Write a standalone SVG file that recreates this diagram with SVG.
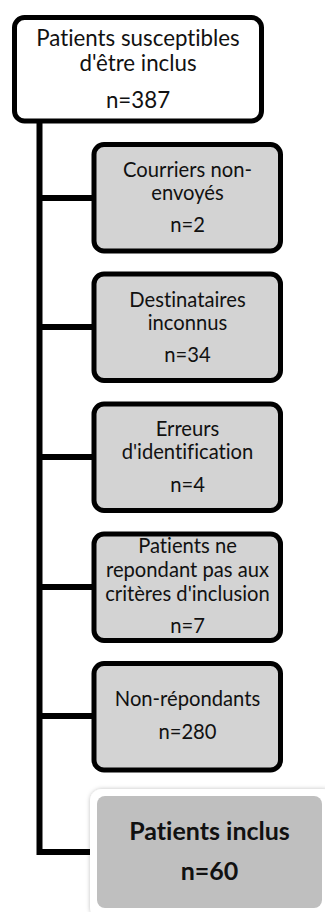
<svg xmlns="http://www.w3.org/2000/svg" width="325" height="912" viewBox="0 0 325 912">
<defs>
<style>
text{font-variant-ligatures:none;font-feature-settings:"liga" 0,"clig" 0,"dlig" 0}
.box{fill:#ffffff;stroke:#000;stroke-width:5}
.gbox{fill:#d3d3d3;stroke:#000;stroke-width:5}
.t{font-family:Lato,"Liberation Sans",sans-serif;font-size:20.2px;fill:#111;text-anchor:middle}
.tt{font-family:Lato,"Liberation Sans",sans-serif;font-size:22.3px;fill:#111;text-anchor:middle}
.tb{font-family:Lato,"Liberation Sans",sans-serif;font-size:25px;font-weight:bold;fill:#111;text-anchor:middle}
.c{fill:none;stroke:#000;stroke-width:6;stroke-linejoin:miter}
</style>
<filter id="sh" x="-10%" y="-10%" width="120%" height="120%">
<feDropShadow dx="0" dy="0" stdDeviation="2" flood-color="#000" flood-opacity="0.25"/>
</filter>
</defs>
<g id="connectors">
<path class="c" d="M39.5 121 V852 H92"/>
<path class="c" d="M39.5 198 H94 M39.5 327 H94 M39.5 457 H94 M39.5 587 H94 M39.5 716 H94"/>
</g>
<g id="n0">
<rect class="box" x="14.5" y="17.5" width="247" height="103.5" rx="10"/>
<text class="tt" x="138" y="46">Patients susceptibles</text>
<text class="tt" x="138" y="71">d'être inclus</text>
<text class="tt" x="138" y="108">n=387</text>
</g>
<g id="n1">
<rect class="gbox" x="94" y="144.5" width="186.5" height="106.5" rx="10"/>
<text class="t" x="187.5" y="177">Courriers non-</text>
<text class="t" x="187.5" y="200">envoyés</text>
<text class="t" x="187.5" y="232">n=2</text>
</g>
<g id="n2">
<rect class="gbox" x="94" y="274" width="186.5" height="106.5" rx="10"/>
<text class="t" x="187.5" y="307">Destinataires</text>
<text class="t" x="187.5" y="330">inconnus</text>
<text class="t" x="187.5" y="362">n=34</text>
</g>
<g id="n3">
<rect class="gbox" x="94" y="404" width="186.5" height="106.5" rx="10"/>
<text class="t" x="187.5" y="436">Erreurs</text>
<text class="t" x="187.5" y="459">d'identification</text>
<text class="t" x="187.5" y="492">n=4</text>
</g>
<g id="n4">
<rect class="gbox" x="94" y="534" width="186.5" height="106.5" rx="10"/>
<text class="t" x="187.5" y="553">Patients ne</text>
<text class="t" x="187.5" y="577">repondant pas aux</text>
<text class="t" x="187.5" y="601">critères d'inclusion</text>
<text class="t" x="187.5" y="633">n=7</text>
</g>
<g id="n5">
<rect class="gbox" x="94" y="663.5" width="186.5" height="106.5" rx="10"/>
<text class="t" x="187.5" y="706">Non-répondants</text>
<text class="t" x="187.5" y="739">n=280</text>
</g>
<g id="n6">
<rect x="90" y="789" width="245" height="130" rx="12" fill="#fff" filter="url(#sh)"/>
<rect x="97" y="796" width="225" height="112" rx="8" fill="#bfbfbf"/>
<text class="tb" x="209.5" y="840">Patients inclus</text>
<text class="tb" x="209.5" y="880">n=60</text>
</g>
</svg>
